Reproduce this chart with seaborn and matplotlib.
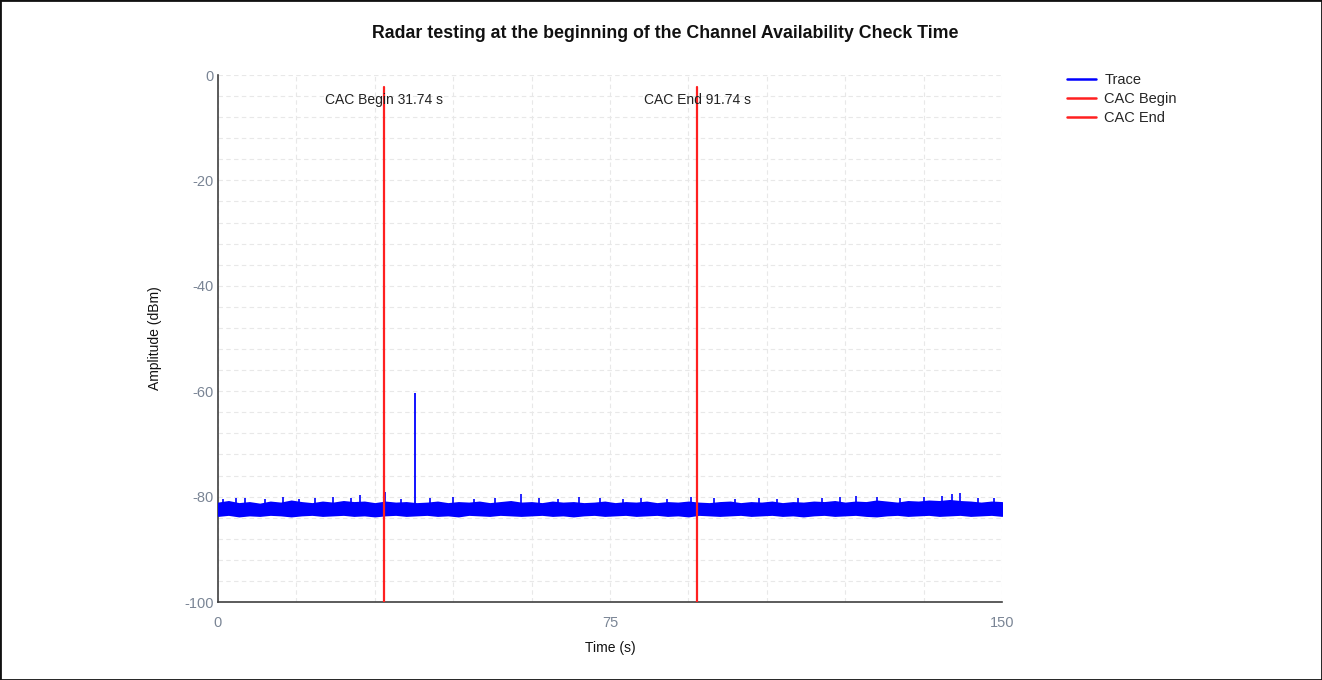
import numpy as np
import pandas as pd
import matplotlib
matplotlib.use("Agg")
import matplotlib.pyplot as plt
from matplotlib.lines import Line2D
from matplotlib.patches import Rectangle
import seaborn as sns

# -------------------------------
# Data
# -------------------------------
title = "Radar testing at the beginning of the Channel Availability Check Time"

# noise band of the trace, sampled every 2 s
band_time = [0, 2, 4, 6, 8, 10, 12, 14, 16, 18, 20, 22, 24, 26, 28, 30, 32, 34, 36, 38,
             40, 42, 44, 46, 48, 50, 52, 54, 56, 58, 60, 62, 64, 66, 68, 70, 72, 74, 76, 78,
             80, 82, 84, 86, 88, 90, 92, 94, 96, 98, 100, 102, 104, 106, 108, 110, 112, 114, 116, 118,
             120, 122, 124, 126, 128, 130, 132, 134, 136, 138, 140, 142, 144, 146, 148, 150]
band_upper = [-81.2, -80.9, -81.3, -81.1, -81.4, -81.0, -81.2, -80.8, -81.1, -81.3,
              -81.0, -81.2, -80.9, -81.1, -81.0, -81.3, -81.0, -81.2, -81.1, -81.3,
              -81.2, -81.0, -81.3, -81.1, -81.2, -81.0, -81.3, -81.1, -80.9, -81.2,
              -81.1, -81.3, -81.0, -81.2, -81.1, -81.3, -81.2, -81.0, -81.3, -81.1,
              -81.2, -81.0, -81.3, -81.1, -81.2, -81.0, -81.2, -81.3, -81.1, -81.0,
              -81.3, -81.1, -81.2, -81.0, -81.3, -81.1, -81.2, -81.0, -81.1, -80.9,
              -81.2, -81.0, -81.1, -80.8, -81.0, -81.2, -80.9, -81.0, -80.8, -80.9,
              -80.7, -80.9, -81.0, -81.2, -81.0, -81.1]
band_lower = [-83.6, -83.4, -83.7, -83.5, -83.6, -83.4, -83.5, -83.7, -83.5, -83.4,
              -83.6, -83.5, -83.4, -83.6, -83.5, -83.7, -83.5, -83.4, -83.6, -83.5,
              -83.4, -83.6, -83.5, -83.7, -83.4, -83.5, -83.6, -83.4, -83.5, -83.6,
              -83.5, -83.4, -83.6, -83.5, -83.7, -83.5, -83.4, -83.6, -83.5, -83.4,
              -83.6, -83.5, -83.4, -83.6, -83.5, -83.7, -83.4, -83.5, -83.6, -83.5,
              -83.4, -83.6, -83.5, -83.4, -83.6, -83.5, -83.7, -83.5, -83.4, -83.6,
              -83.5, -83.4, -83.6, -83.7, -83.5, -83.4, -83.6, -83.5, -83.4, -83.6,
              -83.5, -83.4, -83.6, -83.5, -83.4, -83.6]

# short noise peaks sticking out of the band
peak_time = [1.0, 3.5, 5.2, 9.0, 12.5, 15.5, 18.5, 22.0, 25.5, 27.2, 31.9, 35.0, 40.5, 45.0,
             49.0, 53.0, 58.0, 61.5, 65.0, 69.0, 73.0, 77.5, 81.0, 86.0, 90.5, 95.0, 99.0,
             103.5, 107.0, 111.0, 115.5, 119.0, 122.0, 126.0, 130.5, 135.0, 138.5, 140.5,
             142.0, 145.5, 148.5]
peak_level = [-80.4, -80.2, -80.3, -80.5, -80.1, -80.4, -80.2, -80.0, -80.3, -79.7, -79.2,
              -80.4, -80.3, -80.1, -80.5, -80.3, -79.5, -80.2, -80.4, -80.0, -80.3, -80.4,
              -80.2, -80.4, -80.1, -80.3, -80.5, -80.2, -80.4, -80.3, -80.2, -80.1, -79.8,
              -80.1, -80.2, -80.0, -79.9, -79.5, -79.4, -80.2, -80.3]

# radar pulse
pulse_time = 37.7
pulse_level = -60.3

# CAC markers
cac_names = ["CAC Begin", "CAC End"]
cac_time = [31.74, 91.74]
cac_top = -2.2

# -------------------------------
# Style
# -------------------------------
sns.set_theme(style="white")
plt.rcParams['font.family'] = ['Liberation Sans', 'DejaVu Sans']
plt.rcParams['axes.unicode_minus'] = False

fig = plt.figure(figsize=(13.22, 6.8), dpi=100)
ax = fig.add_axes([0.1649, 0.1147, 0.5930, 0.7750])

blue = "#0000ff"
red = "#ff2020"

# -------------------------------
# Trace
# -------------------------------
ax.fill_between(band_time, band_lower, band_upper, color=blue,
                linewidth=1.2, edgecolor=blue, zorder=3)
ax.vlines(peak_time, -81.5, peak_level, color=blue, linewidth=1.2, zorder=3)
ax.vlines([pulse_time], -81.5, [pulse_level], color=blue, linewidth=1.3, zorder=3)

# -------------------------------
# CAC lines
# -------------------------------
cac_df = pd.DataFrame({
    "Marker": [n for n in cac_names for _ in range(2)],
    "Time": [t for t in cac_time for _ in range(2)],
    "Amplitude": [cac_top, -100] * len(cac_names),
})
sns.lineplot(data=cac_df, x="Time", y="Amplitude", units="Marker", estimator=None,
             color=red, linewidth=1.6, ax=ax, legend=False, zorder=4, sort=False)

for name, t in zip(cac_names, cac_time):
    ax.text(t, -4.7, f"{name} {t:.2f} s", ha="center", va="center",
            fontsize=10, color="#222222", zorder=5)

# -------------------------------
# Axes
# -------------------------------
ax.set_xlim(0, 150)
ax.set_ylim(-100, 0)
ax.set_xticks([0, 75, 150])
ax.set_yticks([0, -20, -40, -60, -80, -100])
ax.set_xticks(np.arange(0, 151, 15), minor=True)
ax.set_yticks(np.arange(-100, 1, 4), minor=True)
ax.grid(which="both", color="#e8e8e8", linestyle=(0, (4, 3)), linewidth=0.8)
ax.set_axisbelow(True)
ax.tick_params(axis="both", which="both", length=0, colors="#7a8595", labelsize=10.5)
ax.tick_params(axis="x", pad=10)
ax.tick_params(axis="y", pad=3)

for side in ["top", "right"]:
    ax.spines[side].set_visible(False)
for side in ["left", "bottom"]:
    ax.spines[side].set_color("#404040")
    ax.spines[side].set_linewidth(1.2)

ax.set_xlabel("Time (s)", fontsize=10, color="#111111", labelpad=8)
ax.set_ylabel("Amplitude (dBm)", fontsize=10, color="#111111", labelpad=16)

# title is centred on the whole figure, not on the axes
fig.text(0.503, 1 - 33 / 680, title, ha="center", va="center",
         fontsize=12.8, fontweight="bold", color="#111111")

handles = [Line2D([], [], color=blue, linewidth=1.8),
           Line2D([], [], color=red, linewidth=1.8),
           Line2D([], [], color=red, linewidth=1.8)]
ax.legend(handles, ["Trace"] + cac_names, loc="upper left", bbox_to_anchor=(1.075, 1.015),
          frameon=False, fontsize=10.5, handlelength=2.0, labelspacing=0.35,
          handletextpad=0.6, borderaxespad=0)

# figure border
fig.patches.append(Rectangle((0, 0), 1, 1, transform=fig.transFigure, fill=False,
                             edgecolor="#111111", linewidth=2))

fig.savefig("out.png", dpi=100)
